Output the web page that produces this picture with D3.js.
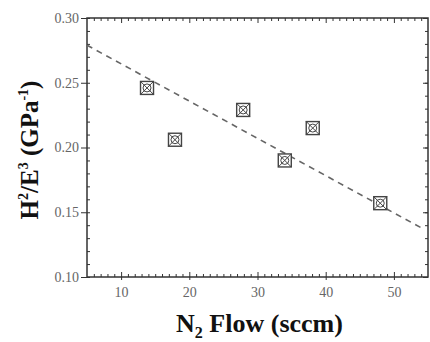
<!DOCTYPE html>
<html><head><meta charset="utf-8">
<script src="https://cdn.jsdelivr.net/npm/d3@7"></script>
<style>body{margin:0;background:#fff}</style>
</head><body><svg id="c" width="430" height="342"></svg>
<script>
const flow = [13.8, 17.9, 27.9, 34.0, 38.1, 48.0];
const ratio = [0.246, 0.206, 0.229, 0.190, 0.215, 0.157];
const fitX = [5, 54];
const fitY = [0.279, 0.138];
const xTicks = [10, 20, 30, 40, 50];
const yTicks = [0.10, 0.15, 0.20, 0.25, 0.30];

const svg = d3.select("#c");
const L = 87, R = 428, T = 18, B = 277;
const x = d3.scaleLinear().domain([5, 55]).range([L, R]);
const y = d3.scaleLinear().domain([0.10, 0.30]).range([B, T]);
const col = "#333";

svg.append("rect").attr("x", L).attr("y", T).attr("width", R - L).attr("height", B - T)
  .attr("fill", "none").attr("stroke", col).attr("stroke-width", 1.5);

const xMinor = d3.range(6, 55, 1);
const yMinor = d3.range(0.10, 0.3001, 0.01);

svg.append("g").attr("transform", `translate(0,${B})`)
  .call(d3.axisBottom(x).tickValues(xTicks).tickSize(-5).tickPadding(10).tickFormat(d3.format("d")));
svg.append("g").attr("transform", `translate(0,${B})`)
  .call(d3.axisBottom(x).tickValues(xMinor.filter(v => v % 10)).tickSize(-3).tickFormat(""));
svg.append("g").attr("transform", `translate(0,${B})`)
  .call(d3.axisBottom(x).tickValues(xTicks).tickSize(3).tickFormat(""));
svg.append("g").attr("transform", `translate(0,${T})`)
  .call(d3.axisTop(x).tickValues(xTicks).tickSize(-5).tickFormat(""));
svg.append("g").attr("transform", `translate(0,${T})`)
  .call(d3.axisTop(x).tickValues(xMinor.filter(v => v % 10)).tickSize(-3).tickFormat(""));
svg.append("g").attr("transform", `translate(${L},0)`)
  .call(d3.axisLeft(y).tickValues(yTicks).tickSize(6).tickPadding(2).tickFormat(d3.format(".2f")));
svg.append("g").attr("transform", `translate(${L},0)`)
  .call(d3.axisLeft(y).tickValues(yMinor).tickSize(-3).tickFormat(""));
svg.append("g").attr("transform", `translate(${R},0)`)
  .call(d3.axisRight(y).tickValues(yMinor).tickSize(-3).tickFormat(""));
svg.append("g").attr("transform", `translate(${R},0)`)
  .call(d3.axisRight(y).tickValues(yTicks).tickSize(-5).tickFormat(""));

svg.selectAll(".domain").remove();
svg.selectAll(".tick line").attr("stroke", col).attr("stroke-width", 1);
svg.selectAll(".tick text").attr("font-family", "Liberation Serif, Times New Roman, serif")
  .attr("font-size", 14).attr("fill", "#666");

svg.append("line").attr("x1", x(fitX[0])).attr("y1", y(fitY[0]))
  .attr("x2", x(fitX[1])).attr("y2", y(fitY[1]))
  .attr("stroke", "#666").attr("stroke-width", 1.6).attr("stroke-dasharray", "6,5");

const m = svg.append("g").selectAll("g").data(flow).join("g")
  .attr("transform", (d, i) => `translate(${x(d)},${y(ratio[i])})`);
const s = 6.5;
m.append("rect").attr("x", -s).attr("y", -s).attr("width", 2 * s).attr("height", 2 * s)
  .attr("fill", "#fff").attr("stroke", "#444").attr("stroke-width", 1.4);
m.append("circle").attr("r", 4).attr("fill", "none").attr("stroke", "#444").attr("stroke-width", 1);
m.append("path").attr("d", `M${-s},${-s}L${s},${s}M${s},${-s}L${-s},${s}`)
  .attr("stroke", "#444").attr("stroke-width", 1);

const xt = svg.append("text").attr("x", (L + R) / 2 + 2).attr("y", 332)
  .attr("text-anchor", "middle").attr("font-family", "Liberation Serif, Times New Roman, serif")
  .attr("font-weight", "bold").attr("font-size", 26).attr("fill", "#111");
xt.append("tspan").text("N");
xt.append("tspan").text("2").attr("font-size", 16).attr("dy", 6);
xt.append("tspan").text(" Flow (sccm)").attr("dy", -6);

const yt = svg.append("text").attr("transform", `translate(38,${150}) rotate(-90)`)
  .attr("text-anchor", "middle").attr("font-family", "Liberation Serif, Times New Roman, serif")
  .attr("font-weight", "bold").attr("font-size", 25).attr("fill", "#111");
yt.append("tspan").text("H");
yt.append("tspan").text("2").attr("font-size", 14).attr("dy", -10);
yt.append("tspan").text("/E").attr("dy", 10);
yt.append("tspan").text("3").attr("font-size", 14).attr("dy", -10);
yt.append("tspan").text(" (GPa").attr("dy", 10);
yt.append("tspan").text("-1").attr("font-size", 14).attr("dy", -10);
yt.append("tspan").text(")").attr("dy", 10);
</script></body></html>
